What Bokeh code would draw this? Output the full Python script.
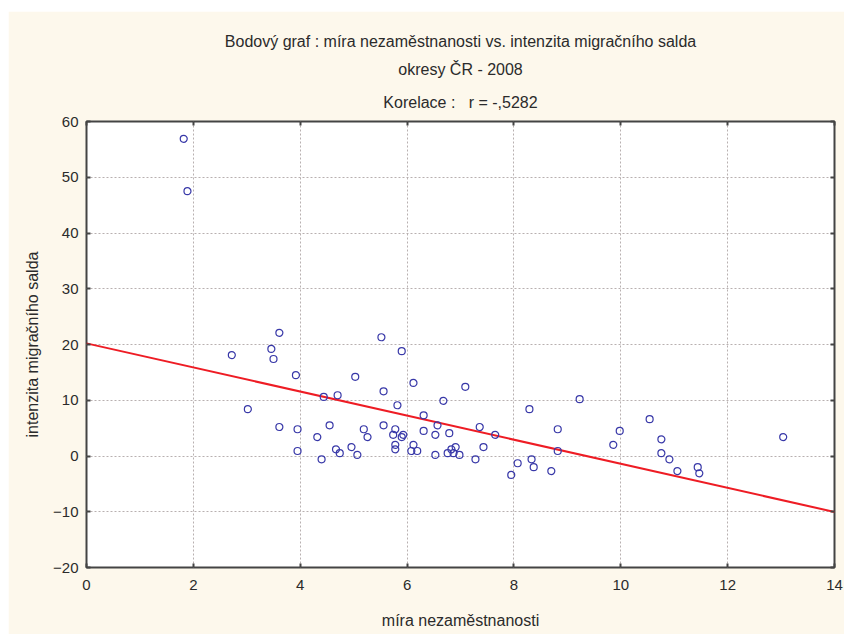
import numpy as np
from bokeh.plotting import figure
from bokeh.models import LinearAxis, Title, FixedTicker, Range1d
from bokeh.embed import file_html
from bokeh.resources import INLINE

# míra nezaměstnanosti (x) and intenzita migračního salda (y), okresy ČR 2008
unemployment = [1.82, 1.89, 2.72, 3.02, 3.46, 3.50, 3.61, 3.61, 3.92, 3.95,
                3.95, 4.32, 4.40, 4.44, 4.55, 4.67, 4.70, 4.74, 4.96, 5.03,
                5.07, 5.19, 5.26, 5.52, 5.56, 5.56, 5.78, 5.74, 5.78, 5.78,
                5.82, 5.90, 5.90, 5.93, 6.08, 6.12, 6.12, 6.19, 6.31, 6.31,
                6.53, 6.53, 6.57, 6.68, 6.76, 6.79, 6.83, 6.87, 6.91, 6.98,
                7.09, 7.28, 7.36, 7.43, 7.65, 7.95, 8.07, 8.29, 8.33, 8.37,
                8.70, 8.82, 8.82, 9.23, 9.86, 9.98, 10.54, 10.76, 10.76, 10.91,
                11.06, 11.44, 11.47, 13.04]
migration = [56.9, 47.5, 18.1, 8.4, 19.2, 17.4, 22.1, 5.2, 14.5, 4.8,
             0.9, 3.4, -0.6, 10.6, 5.5, 1.2, 10.9, 0.5, 1.6, 14.2,
             0.2, 4.8, 3.4, 21.3, 11.6, 5.5, 4.8, 3.8, 2.0, 1.2,
             9.1, 18.8, 3.4, 3.8, 0.9, 13.1, 2.0, 0.9, 7.3, 4.5,
             3.8, 0.2, 5.5, 9.9, 0.5, 4.1, 1.2, 0.5, 1.6, 0.2,
             12.4, -0.6, 5.2, 1.6, 3.8, -3.4, -1.3, 8.4, -0.6, -2.0,
             -2.7, 4.8, 0.9, 10.2, 2.0, 4.5, 6.6, 3.0, 0.5, -0.6,
             -2.7, -2.0, -3.1, 3.4]

fit_intercept = 20.2
fit_slope = -2.16

x_ticks = [0, 2, 4, 6, 8, 10, 12, 14]
y_ticks = [-20, -10, 0, 10, 20, 30, 40, 50, 60]

title_lines = ["Bodový graf : míra nezaměstnanosti vs. intenzita migračního salda",
               "okresy ČR - 2008",
               "Korelace :\u00a0\u00a0 r = -,5282"]
x_label = "míra nezaměstnanosti"
y_label = "intenzita migračního salda"

FONT = "Liberation Sans"
CREAM = "#FDF8EC"
TEXT = "#2b2b2b"

x0, x1 = x_ticks[0], x_ticks[-1]
y0, y1 = y_ticks[0], y_ticks[-1]

p = figure(width=836, height=623,
           x_range=Range1d(x0, x1), y_range=Range1d(y0, y1),
           output_backend="svg", toolbar_location=None,
           min_border_left=78, min_border_right=10,
           min_border_top=110, min_border_bottom=67)
p.margin = (11, 0, 0, 8)
p.background_fill_color = "white"
p.border_fill_color = CREAM
p.outline_line_color = "#444444"
p.outline_line_width = 2

for ax in p.xaxis:
    ax.ticker = FixedTicker(ticks=x_ticks)
for ax in p.yaxis:
    ax.ticker = FixedTicker(ticks=y_ticks)

def style_axis(ax, show_labels):
    ax.major_tick_in = 4
    ax.major_tick_out = 0
    ax.minor_tick_line_color = None
    ax.axis_line_color = None
    ax.major_tick_line_color = "#444444"
    ax.major_tick_line_width = 2
    ax.major_label_text_font = FONT
    ax.major_label_text_color = TEXT
    ax.axis_label_text_font = FONT
    ax.axis_label_text_color = TEXT
    ax.axis_label_text_font_style = "normal"
    if show_labels:
        ax.major_label_text_font_size = "15px"
        ax.axis_label_text_font_size = "16px"
    else:
        ax.major_label_text_font_size = "1px"
        ax.major_label_text_color = None
        ax.major_label_standoff = 0

style_axis(p.xaxis[0], True)
style_axis(p.yaxis[0], True)
p.xaxis[0].axis_label = x_label
p.yaxis[0].axis_label = y_label
p.xaxis[0].major_label_standoff = 12
p.xaxis[0].axis_label_standoff = 19
p.yaxis[0].major_label_standoff = 8
p.yaxis[0].axis_label_standoff = 9

top_axis = LinearAxis(ticker=FixedTicker(ticks=x_ticks))
right_axis = LinearAxis(ticker=FixedTicker(ticks=y_ticks))
style_axis(top_axis, False)
style_axis(right_axis, False)
p.add_layout(top_axis, "above")
p.add_layout(right_axis, "right")

p.xgrid.ticker = FixedTicker(ticks=x_ticks)
p.ygrid.ticker = FixedTicker(ticks=y_ticks)
for g in (p.xgrid[0], p.ygrid[0]):
    g.grid_line_color = "#b8b0b0"
    g.grid_line_dash = "2 2"
    g.grid_line_width = 1

for i, line in enumerate(reversed(title_lines)):
    t = Title(text=line, align="center", text_font=FONT, text_font_size="16px",
              text_font_style="normal", text_color=TEXT, offset=-38,
              standoff=20 if i == 0 else 9,
              vertical_align="middle" if i == 0 else "bottom")
    p.add_layout(t, "above")

# regression line across the x range
fx = [x0, x1]
fy = [fit_intercept + fit_slope * v for v in fx]
p.line(fx, fy, line_color="#EE1C24", line_width=2)

p.scatter(unemployment, migration, marker="circle", size=7,
          fill_color=None, line_color="#3838A8", line_width=1.2)

open("out.html", "w").write(file_html(p, INLINE))
